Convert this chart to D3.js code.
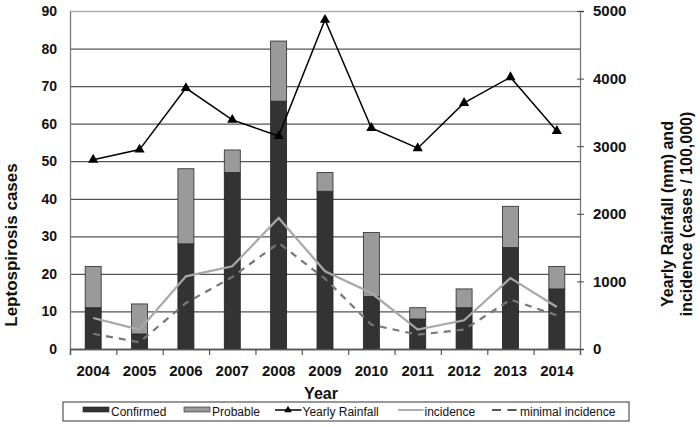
<!DOCTYPE html>
<html>
<head>
<meta charset="utf-8">
<script src="https://cdn.jsdelivr.net/npm/d3@7"></script>
<style>
  html, body { margin: 0; padding: 0; background: #fff; }
  svg { display: block; font-family: "Liberation Sans", Arial, sans-serif; }
</style>
</head>
<body>
<svg id="chart" width="700" height="427"></svg>
<script>
// ---- data ----
const years = ["2004","2005","2006","2007","2008","2009","2010","2011","2012","2013","2014"];
const confirmed = [11, 4, 28, 47, 66, 42, 14, 8, 11, 27, 16];
const probable  = [11, 8, 20, 6, 16, 5, 17, 3, 5, 11, 6];
const rainfall  = [2800, 2950, 3860, 3390, 3150, 4870, 3270, 2970, 3640, 4020, 3225];
const incidence = [459, 286, 1075, 1223, 1938, 1150, 828, 286, 424, 1050, 621];
const minimalIncidence = [226, 99, 680, 1065, 1568, 1040, 360, 212, 286, 730, 498];
const leftTicks  = [0, 10, 20, 30, 40, 50, 60, 70, 80, 90];
const rightTicks = [0, 1000, 2000, 3000, 4000, 5000];
const legendItems = ["Confirmed", "Probable", "Yearly Rainfall", "incidence", "minimal incidence"];

// ---- layout ----
const svg = d3.select("#chart");
const L = 70, R = 580, T = 11, B = 349;

const x = d3.scaleBand().domain(years).range([L, R]).paddingInner(0.655).paddingOuter(0.3275);
const xb = d3.scaleLinear().domain([0, years.length]).range([L, R]);
const yL = d3.scaleLinear().domain([0, 90]).range([B, T]);
const yR = d3.scaleLinear().domain([0, 5000]).range([B, T]);
const cx = d => x(d) + x.bandwidth() / 2;

// gridlines
const grid = svg.append("g").attr("transform", `translate(${L},0)`)
  .call(d3.axisLeft(yL).tickValues(leftTicks).tickSize(-(R - L)).tickFormat(""));
grid.select(".domain").remove();
grid.selectAll("line").attr("stroke", "#555").attr("stroke-width", 1.3);
grid.selectAll(".tick").filter(d => d === 90).select("line").attr("stroke", "#b0b0b0");

// bars
const stackData = years.map((y, i) => ({ year: y, c: confirmed[i], p: probable[i] }));
const bars = svg.append("g");
bars.selectAll("rect.conf").data(stackData).join("rect")
  .attr("x", d => x(d.year)).attr("width", x.bandwidth())
  .attr("y", d => yL(d.c)).attr("height", d => yL(0) - yL(d.c))
  .attr("fill", "#333333").attr("stroke", "#222").attr("stroke-width", 0.8);
bars.selectAll("rect.prob").data(stackData).join("rect")
  .attr("x", d => x(d.year)).attr("width", x.bandwidth())
  .attr("y", d => yL(d.c + d.p)).attr("height", d => yL(d.c) - yL(d.c + d.p))
  .attr("fill", "#9a9a9a").attr("stroke", "#2a2a2a").attr("stroke-width", 0.8);

// left axis
const ax = svg.append("g").attr("transform", `translate(${L},0)`)
  .call(d3.axisLeft(yL).tickValues(leftTicks).tickSize(0).tickPadding(13));
ax.select(".domain").attr("stroke", "#777").attr("stroke-width", 1.3);
ax.selectAll("text").attr("font-size", 14).attr("font-weight", "bold").attr("fill", "#111")
  .attr("font-family", "Liberation Sans, Arial, sans-serif");

// right axis
const ar = svg.append("g").attr("transform", `translate(${R},0)`)
  .call(d3.axisRight(yR).tickValues(rightTicks).tickFormat(d3.format("d")).tickSize(4).tickPadding(9));
ar.select(".domain").attr("stroke", "#777").attr("stroke-width", 1.3);
ar.selectAll(".tick line").attr("x1", -3).attr("x2", 4).attr("stroke", "#444");
ar.selectAll("text").attr("font-size", 15).attr("font-weight", "bold").attr("fill", "#111")
  .attr("font-family", "Liberation Sans, Arial, sans-serif");

// bottom axis (labels)
const axb = svg.append("g").attr("transform", `translate(0,${B})`)
  .call(d3.axisBottom(x).tickSize(0).tickPadding(16));
axb.select(".domain").remove();
axb.selectAll("text").attr("font-size", 15).attr("font-weight", "bold").attr("fill", "#111")
  .attr("font-family", "Liberation Sans, Arial, sans-serif");
// bottom axis (boundary ticks)
const axt = svg.append("g").attr("transform", `translate(0,${B})`)
  .call(d3.axisBottom(xb).ticks(years.length).tickSize(6).tickFormat(""));
axt.select(".domain").attr("stroke", "#555").attr("stroke-width", 1.3);
axt.selectAll("line").attr("stroke", "#555").attr("stroke-width", 1.2);

// lines
const lineR = d3.line().x((d, i) => cx(years[i])).y(d => yR(d));
svg.append("path").datum(incidence).attr("d", lineR)
  .attr("fill", "none").attr("stroke", "#a8a8a8").attr("stroke-width", 2.2);
svg.append("path").datum(minimalIncidence).attr("d", lineR)
  .attr("fill", "none").attr("stroke", "#777").attr("stroke-width", 2.2).attr("stroke-dasharray", "7,6");
svg.append("path").datum(rainfall).attr("d", lineR)
  .attr("fill", "none").attr("stroke", "#000").attr("stroke-width", 1.5);
svg.append("g").selectAll("path").data(rainfall).join("path")
  .attr("d", d3.symbol(d3.symbolTriangle, 45))
  .attr("transform", (d, i) => `translate(${cx(years[i])},${yR(d)})`)
  .attr("fill", "#000");

// axis titles
svg.append("text").attr("transform", "translate(17,245) rotate(-90)")
  .attr("text-anchor", "middle").attr("font-size", 17).attr("font-weight", "bold").attr("fill", "#111")
  .text("Leptospirosis cases");
const rt = svg.append("text").attr("transform", "translate(673,214) rotate(-90)")
  .attr("text-anchor", "middle").attr("font-size", 16).attr("font-weight", "bold").attr("fill", "#111");
rt.append("tspan").attr("x", 0).attr("y", 0).text("Yearly Rainfall (mm) and");
rt.append("tspan").attr("x", 0).attr("y", 19).text("incidence (cases / 100,000)");
svg.append("text").attr("x", 321).attr("y", 399).attr("text-anchor", "middle")
  .attr("font-size", 16).attr("font-weight", "bold").attr("fill", "#111").text("Year");

// legend
const lg = svg.append("g");
lg.append("rect").attr("x", 63).attr("y", 402).attr("width", 566).attr("height", 19)
  .attr("fill", "#fff").attr("stroke", "#333").attr("stroke-width", 1);
const ly = 410;
lg.append("rect").attr("x", 83).attr("y", 407).attr("width", 26).attr("height", 5)
  .attr("fill", "#333").attr("stroke", "#222").attr("stroke-width", 0.6);
lg.append("rect").attr("x", 184).attr("y", 407).attr("width", 26).attr("height", 5)
  .attr("fill", "#9a9a9a").attr("stroke", "#222").attr("stroke-width", 0.6);
lg.append("line").attr("x1", 275).attr("x2", 301.5).attr("y1", ly).attr("y2", ly)
  .attr("stroke", "#000").attr("stroke-width", 1.5);
lg.append("path").attr("d", d3.symbol(d3.symbolTriangle, 24))
  .attr("transform", `translate(288,${ly})`).attr("fill", "#000");
lg.append("line").attr("x1", 398).attr("x2", 423.5).attr("y1", ly).attr("y2", ly)
  .attr("stroke", "#a8a8a8").attr("stroke-width", 1.8);
lg.append("line").attr("x1", 492).attr("x2", 517).attr("y1", ly).attr("y2", ly)
  .attr("stroke", "#555").attr("stroke-width", 1.8).attr("stroke-dasharray", "9,6.5");
const textX = [111, 212, 302.5, 424.5, 520];
lg.selectAll("text").data(legendItems).join("text")
  .attr("x", (d, i) => textX[i]).attr("y", 416)
  .attr("font-size", 12).attr("fill", "#111").text(d => d);
</script>
</body>
</html>
